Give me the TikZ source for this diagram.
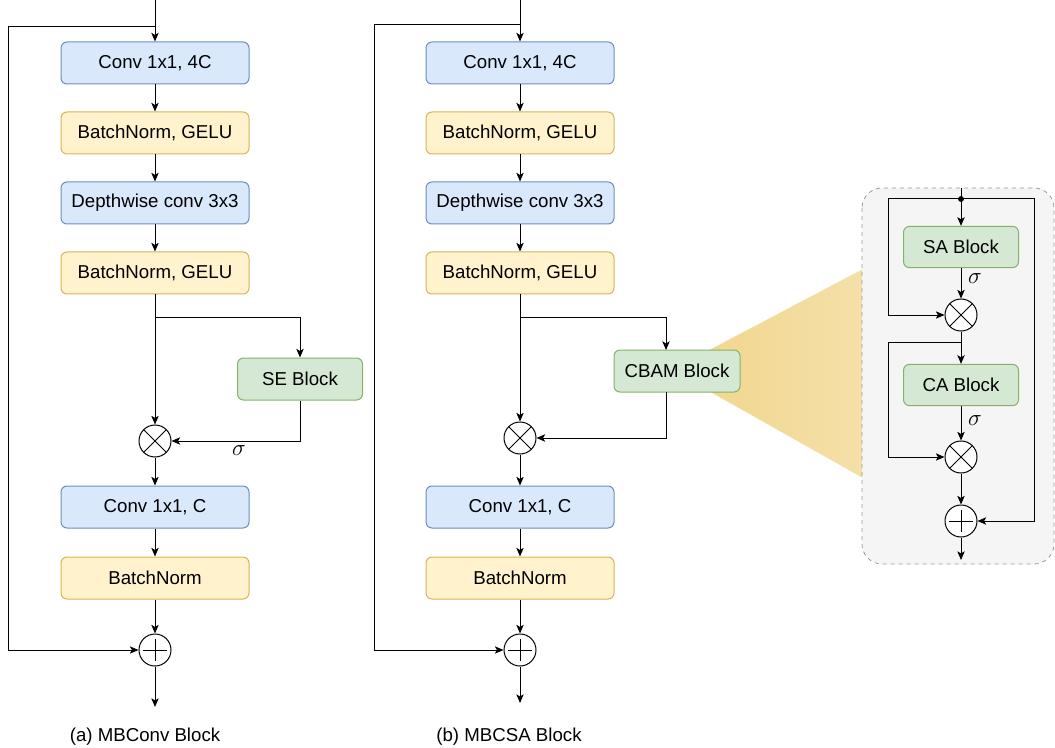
\documentclass[tikz,border=0pt]{standalone}
\usepackage{fontspec}
\setmainfont{Liberation Sans}
\usetikzlibrary{arrows.meta}
\definecolor{bfill}{HTML}{DAE8FC}\definecolor{bdraw}{HTML}{6C8EBF}
\definecolor{yfill}{HTML}{FFF2CC}\definecolor{ydraw}{HTML}{D6B656}
\definecolor{gfill}{HTML}{D5E8D4}\definecolor{gdraw}{HTML}{82B366}
\definecolor{panelfill}{HTML}{F5F5F5}\definecolor{paneldraw}{HTML}{999999}
\definecolor{gradL}{HTML}{F2D48A}\definecolor{gradR}{HTML}{F4E0A8}
\begin{document}
\begin{tikzpicture}[x=0.75pt,y=-0.75pt,
  font=\fontsize{14}{16}\selectfont,
  line width=0.75pt,
  arr/.style={-{Stealth[length=6.5pt,width=5.5pt,inset=1.6pt]}},
  box/.style={rectangle,rounded corners=4.5pt,minimum width=141pt,minimum height=31.5pt,inner sep=0pt,line width=0.75pt},
  bluebox/.style={box,fill=bfill,draw=bdraw},
  yellowbox/.style={box,fill=yfill,draw=ydraw},
  greenbox/.style={box,fill=gfill,draw=gdraw},
  opcirc/.style={circle,draw,fill=white,minimum size=24pt,inner sep=0pt,line width=0.75pt},
  otimes/.style={opcirc,path picture={
     \draw (path picture bounding box.south west) -- (path picture bounding box.north east);
     \draw (path picture bounding box.north west) -- (path picture bounding box.south east);}},
  oplus/.style={opcirc,path picture={
     \draw ([yshift=8.5pt]path picture bounding box.center) -- ([yshift=-8.5pt]path picture bounding box.center);
     \draw ([xshift=-9pt]path picture bounding box.center) -- ([xshift=9pt]path picture bounding box.center);}},
  sig/.style={inner sep=0pt,font=\fontsize{18}{18}\selectfont},
  caption/.style={inner sep=0pt}
]
\useasboundingbox (0,0) rectangle (1055,748);

% ---------------- (a) MBConv ----------------
\node[bluebox]   (a1) at (155,63)  {Conv 1x1, 4C};
\node[yellowbox] (a2) at (155,133) {BatchNorm, GELU};
\node[bluebox]   (a3) at (155,203) {Depthwise conv 3x3};
\node[yellowbox] (a4) at (155,273) {BatchNorm, GELU};
\node[greenbox,minimum width=93.75pt] (ase) at (300,379) {SE Block};
\node[otimes] (am) at (155,441) {};
\node[bluebox]   (a5) at (155,507) {Conv 1x1, C};
\node[yellowbox] (a6) at (155,578) {BatchNorm};
\node[oplus] (ap) at (155,650) {};
\coordinate (ain) at (155,0);
\coordinate (ask) at (155,27);
\coordinate (aL1) at (8,27);
\coordinate (aL2) at (8,650);
\coordinate (abr) at (155,317);
\coordinate (aout) at (155,707);
\draw[arr] (ain) -- (a1);
\draw (ask) -- (aL1);
\draw[arr] (aL1) -- (aL2) -- (ap.west);
\draw[arr] (a1) -- (a2);
\draw[arr] (a2) -- (a3);
\draw[arr] (a3) -- (a4);
\draw[arr] (a4) -- (am);
\draw[arr] (abr) -| (ase.north);
\draw[arr] (ase.south) |- (am.east);
\node[sig] (asig) at (239,451) {$\sigma$};
\draw[arr] (am) -- (a5);
\draw[arr] (a5) -- (a6);
\draw[arr] (a6) -- (ap);
\draw[arr] (ap) -- (aout);
\node[caption] (acap) at (145,737) {(a) MBConv Block};

% ---------------- (b) MBCSA ----------------
% zoom wedge
\path[left color=gradL,right color=gradR,draw=gradL!80!white,line width=0.5pt]
  (672,370) -- (862,270) -- (862,477) -- cycle;
\node[bluebox]   (b1) at (520,63)  {Conv 1x1, 4C};
\node[yellowbox] (b2) at (520,133) {BatchNorm, GELU};
\node[bluebox]   (b3) at (520,203) {Depthwise conv 3x3};
\node[yellowbox] (b4) at (520,273) {BatchNorm, GELU};
\node[greenbox,minimum width=94.5pt] (bcb) at (677,371) {CBAM Block};
\node[otimes] (bm) at (520,438) {};
\node[bluebox]   (b5) at (520,507) {Conv 1x1, C};
\node[yellowbox] (b6) at (520,578) {BatchNorm};
\node[oplus] (bp) at (520,650) {};
\coordinate (bin) at (520,0);
\coordinate (bsk) at (520,25);
\coordinate (bL1) at (374,25);
\coordinate (bL2) at (374,650);
\coordinate (bbr) at (520,317);
\coordinate (bcin) at (666,350);
\coordinate (bcout) at (666,392);
\coordinate (bout) at (520,703);
\draw[arr] (bin) -- (b1);
\draw (bsk) -- (bL1);
\draw[arr] (bL1) -- (bL2) -- (bp.west);
\draw[arr] (b1) -- (b2);
\draw[arr] (b2) -- (b3);
\draw[arr] (b3) -- (b4);
\draw[arr] (b4) -- (bm);
\draw[arr] (bbr) -| (bcin);
\draw[arr] (bcout) |- (bm.east);
\draw[arr] (bm) -- (b5);
\draw[arr] (b5) -- (b6);
\draw[arr] (b6) -- (bp);
\draw[arr] (bp) -- (bout);
\node[caption] (bcap) at (509,737) {(b) MBCSA Block};

% ---------------- CBAM detail ----------------
\draw[dashed,draw=paneldraw,fill=panelfill,line width=0.6pt,rounded corners=15pt]
  (862,188) rectangle (1054,564);
\node[greenbox,minimum width=86.25pt,minimum height=31pt] (sa) at (961,247) {SA Block};
\node[otimes] (c1) at (961,315) {};
\node[greenbox,minimum width=86.25pt,minimum height=31pt] (ca) at (961,385) {CA Block};
\node[otimes] (c2) at (961,457) {};
\node[oplus] (cp) at (961,521) {};
\coordinate (cin) at (961,188);
\coordinate (cdot) at (961,199);
\coordinate (cL1) at (888,199);
\coordinate (cL2) at (888,315);
\coordinate (cR1) at (1034,199);
\coordinate (cR2) at (1034,521);
\coordinate (csp) at (961,342);
\coordinate (cL3) at (888,342);
\coordinate (cL4) at (888,457);
\coordinate (cout) at (961,560);
\draw[arr] (cin) -- (sa);
\draw[arr] (cdot) -- (cL1) -- (cL2) -- (c1.west);
\draw[arr] (cdot) -- (cR1) -- (cR2) -- (cp.east);
\fill (cdot) circle (2.2pt);
\draw[arr] (sa) -- (c1);
\node[sig] (csig1) at (975,279) {$\sigma$};
\draw[arr] (c1) -- (ca);
\draw[arr] (csp) -- (cL3) -- (cL4) -- (c2.west);
\draw[arr] (ca) -- (c2);
\node[sig] (csig2) at (975,421) {$\sigma$};
\draw[arr] (c2) -- (cp);
\draw[arr] (cp) -- (cout);
\end{tikzpicture}
\end{document}
